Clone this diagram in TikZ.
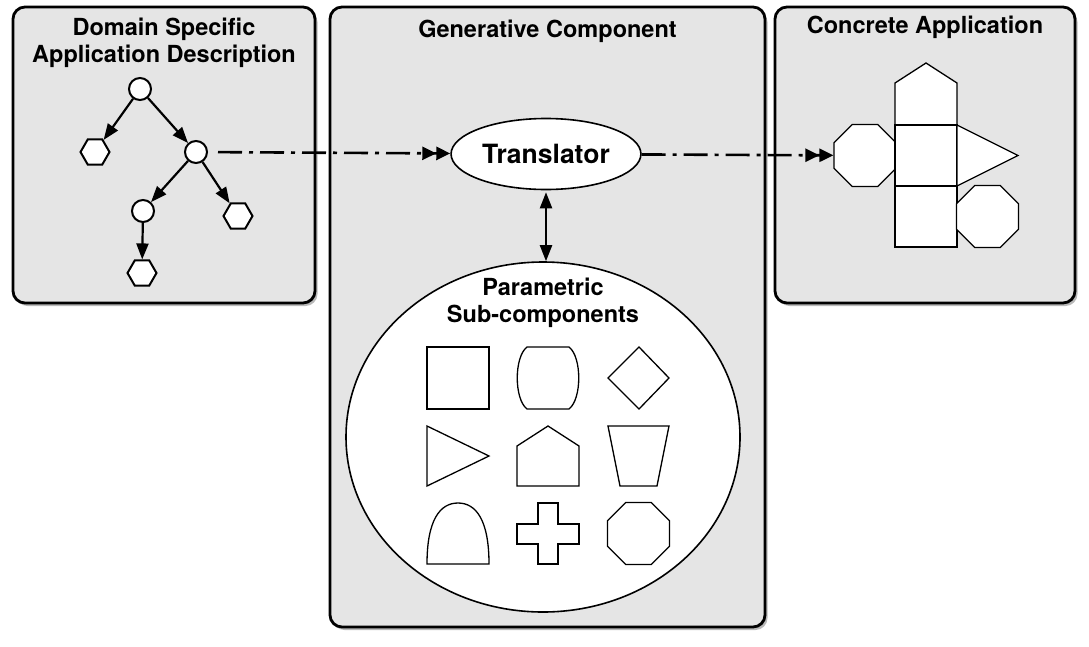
\documentclass[tikz,border=0pt]{standalone}
\usepackage{fontspec}
\setmainfont{TeX Gyre Heros}
\usetikzlibrary{arrows.meta,positioning,shapes.geometric,shadows}
\tikzset{panel/.style={draw,line width=2.8pt,rounded corners=12pt,fill=black!10,
           drop shadow={shadow xshift=2.5pt,shadow yshift=-3pt,opacity=0.55}},
         ttl/.style={font=\fontsize{23.5}{27}\selectfont\bfseries,align=center,inner sep=0pt},
         vtx/.style={circle,draw,line width=2pt,fill=white,minimum size=22pt,inner sep=0pt},
         leaf/.style={regular polygon,regular polygon sides=6,draw,line width=2pt,fill=white,minimum size=29pt,inner sep=0pt},
         oct/.style={regular polygon,regular polygon sides=8,draw,line width=1.3pt,fill=white,minimum size=67pt,inner sep=0pt},
         ar/.style={line width=2.2pt,-{Triangle[length=16pt,width=12pt]}},
         flow/.style={line width=2.6pt,dash pattern=on 24pt off 7pt on 4pt off 7pt,
           -{Triangle[length=14pt,width=13pt]Triangle[length=14pt,width=13pt]}},
         part/.style={draw,line width=1.3pt,fill=white}}
\begin{document}
\begin{tikzpicture}[x=1pt,y=-1pt]
\useasboundingbox (0,0) rectangle (1089,646);
% the three panels
\node[panel,minimum width=302pt,minimum height=296pt] (dsad) at (164,155) {};
\node[panel,minimum width=435pt,minimum height=620pt] (gen) at (547.5,317) {};
\node[panel,minimum width=300pt,minimum height=296pt] (app) at (925,155) {};
\node[ttl,below=12pt of dsad.north] (dsadt) {Domain Specific\\Application Description};
\node[ttl,below=14pt of gen.north] (gent) {Generative Component};
\node[ttl,below=10pt of app.north] (appt) {Concrete Application};

% description tree
\node[vtx] (root) at (140,89) {};
\node[leaf] (l1) at (95,152) {};
\node[vtx] (n2) at (196,152) {};
\node[vtx] (n3) at (143,211) {};
\node[leaf] (l2) at (238,216) {};
\node[leaf] (l3) at (142,273) {};
\draw[ar] (root)--(l1); \draw[ar] (root)--(n2);
\draw[ar] (n2)--(n3); \draw[ar] (n2)--(l2);
\draw[ar] (n3)--(l3);

% generative component
\node[ellipse,draw,fill=white,line width=1.6pt,minimum width=188pt,minimum height=71pt,
      font=\fontsize{26.5}{30}\selectfont\bfseries] (tr) at (546,154) {Translator};
\node[ellipse,draw,fill=white,line width=1.6pt,minimum width=394pt,minimum height=350pt] (subs) at (543,437) {};
\node[ttl,below=17pt of subs.north] (subst) {Parametric\\Sub-components};
\draw[line width=2.2pt,{Triangle[length=16pt,width=12pt]}-{Triangle[length=16pt,width=12pt]},
      shorten <=2pt] (tr.south) -- (tr.south |- subs.north);

% sub-components
\draw[part] (427,347) rectangle (489,409);
\draw[part] (527,347) -- (569,347) .. controls (582,357) and (582,399) .. (569,409)
  -- (527,409) .. controls (514,399) and (514,357) .. (527,347) -- cycle;
\draw[part] (639,347) -- (669,378) -- (639,409) -- (608,378) -- cycle;
\draw[part] (427,426) -- (489,456) -- (427,486) -- cycle;
\draw[part] (548,426) -- (579,446) -- (579,486) -- (517,486) -- (517,446) -- cycle;
\draw[part] (608,426) -- (669,426) -- (657,486) -- (620,486) -- cycle;
\draw[part] (427,564) .. controls (427,520) and (440,503) .. (458,503)
  .. controls (476,503) and (489,520) .. (489,564) -- cycle;
\draw[part] (538,503) -- (558,503) -- (558,524) -- (579,524) -- (579,544) -- (558,544)
  -- (558,564) -- (538,564) -- (538,544) -- (517,544) -- (517,524) -- (538,524) -- cycle;
\node[oct] (g9) at (638.5,533.5) {};

% concrete application
\node[oct] (oct) at (865,155.5) {};
\draw[part] (926,63) -- (957,83) -- (957,125) -- (895,125) -- (895,83) -- cycle;
\draw[part] (895,125) rectangle (957,186);
\draw[part] (895,186) rectangle (957,247);
\draw[part] (957,125) -- (1018,155.5) -- (957,186) -- cycle;
\node[oct] (oct2) at (987.5,216.5) {};

% flow
\draw[flow,shorten <=10pt] (n2) -- (tr);
\draw[flow] (tr) -- (oct);
\end{tikzpicture}
\end{document}
